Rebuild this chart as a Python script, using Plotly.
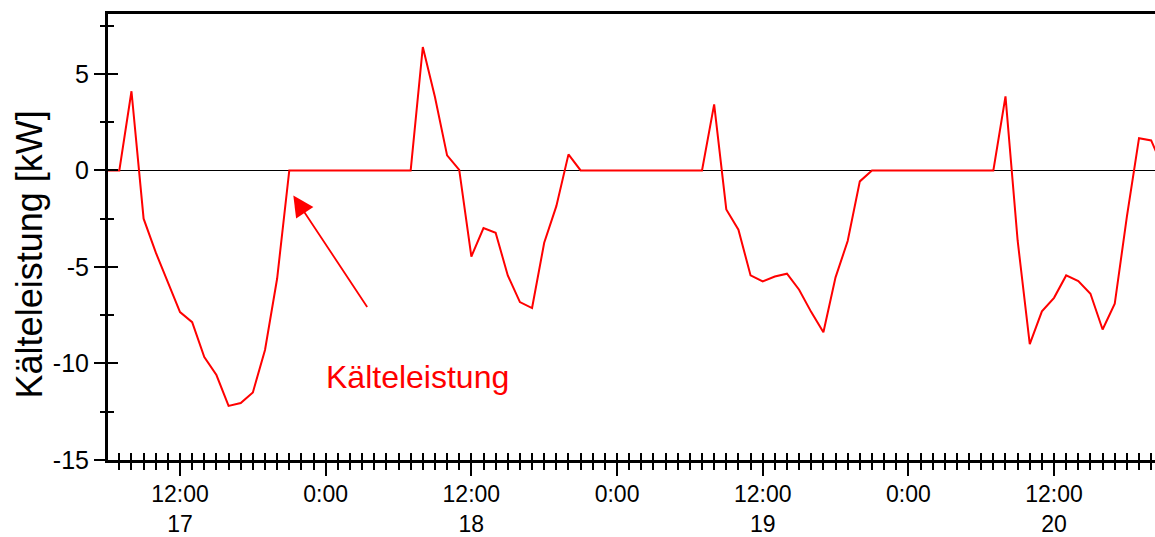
import pandas as pd
import plotly.graph_objects as go

# ---- data (hourly cooling power, kW) ----
start_time = "2023-07-17 06:00"
kaelteleistung = [
    0, 0, 4.1, -2.5, -4.25, -5.8, -7.34, -7.86, -9.67, -10.6, -12.2, -12.05,
    -11.5, -9.3, -5.6, 0, 0, 0, 0, 0, 0, 0, 0, 0,
    0, 0, 6.39, 3.8, 0.78, 0.03, -4.46, -2.99, -3.23, -5.44, -6.82, -7.13,
    -3.75, -1.85, 0.83, 0, 0, 0, 0, 0, 0, 0, 0, 0,
    0, 0, 3.42, -2.02, -3.07, -5.44, -5.75, -5.5, -5.35, -6.18, -7.34, -8.38,
    -5.54, -3.66, -0.57, 0, 0, 0, 0, 0, 0, 0, 0, 0,
    0, 0, 3.83, -3.63, -9.0, -7.3, -6.6, -5.44, -5.73, -6.39, -8.24, -6.91,
    -2.4, 1.67, 1.55, 0.1,
]
times = pd.date_range(start_time, periods=len(kaelteleistung), freq="h")

tick_times = ["2023-07-17 12:00", "2023-07-18 00:00", "2023-07-18 12:00",
              "2023-07-19 00:00", "2023-07-19 12:00", "2023-07-20 00:00",
              "2023-07-20 12:00"]
tick_labels = ["12:00<br>17", "0:00", "12:00<br>18", "0:00", "12:00<br>19",
               "0:00", "12:00<br>20"]
y_ticks = [-15, -10, -5, 0, 5]
y_tick_labels = ["-15", "-10", "-5", "0", "5"]

series_name = "Kälteleistung"
y_title = "Kälteleistung [kW]"

x_range = ["2023-07-17 06:04", "2023-07-20 20:19"]
y_range = [-15, 8.1]

FONT = "Liberation Sans, Arial, Helvetica, sans-serif"
RED = "#ff0000"

fig = go.Figure()
fig.add_trace(go.Scatter(x=times, y=kaelteleistung, mode="lines",
                         line=dict(color=RED, width=2), name=series_name,
                         showlegend=False, hoverinfo="skip"))
# invisible trace for the overlay axes (inside ticks)
fig.add_trace(go.Scatter(x=[times[0]], y=[0], xaxis="x2", yaxis="y2",
                         mode="markers", marker=dict(opacity=0),
                         showlegend=False, hoverinfo="skip"))

minor_x = dict(dtick=3600000, tick0=start_time, ticks="outside",
               ticklen=7, tickwidth=2, tickcolor="black")
common_x = dict(type="date", range=x_range, tickvals=tick_times,
                showgrid=False, zeroline=False, automargin=False)

fig.update_layout(
    width=1155, height=537,
    margin=dict(l=108, r=0, t=14, b=77),
    paper_bgcolor="white", plot_bgcolor="white",
    font=dict(family=FONT, color="black", size=24),
    xaxis=dict(**common_x, ticktext=tick_labels, ticks="outside",
               ticklen=13, tickwidth=2, tickcolor="black",
               minor=minor_x, showline=True, linecolor="black",
               linewidth=3, mirror=True, tickfont=dict(size=23),
               ticklabelstandoff=-2),
    xaxis2=dict(**common_x, overlaying="x", matches="x",
                ticktext=["" for _ in tick_labels], ticks="inside",
                ticklen=12, tickwidth=2, tickcolor="black",
                minor=dict(minor_x, ticks="inside"), showline=False,
                showticklabels=False),
    yaxis=dict(range=y_range, tickvals=y_ticks, ticktext=y_tick_labels,
               ticks="outside", ticklen=11, tickwidth=2, tickcolor="black",
               minor=dict(dtick=2.5, tick0=0, ticks="outside", ticklen=5,
                          tickwidth=2, tickcolor="black"),
               showline=True, linecolor="black", linewidth=3,
               showgrid=False, zeroline=True, zerolinecolor="black",
               zerolinewidth=1, tickfont=dict(size=25), automargin=False),
    yaxis2=dict(range=y_range, overlaying="y", matches="y", tickvals=y_ticks,
                ticks="inside", ticklen=10, tickwidth=2, tickcolor="black",
                minor=dict(dtick=2.5, tick0=0, ticks="inside", ticklen=6,
                           tickwidth=2, tickcolor="black"),
                showticklabels=False, showline=False, showgrid=False,
                zeroline=False, automargin=False),
    annotations=[
        dict(x="2023-07-17 21:20", y=-1.3, xref="x", yref="y",
             ax="2023-07-18 03:30", ay=-7.15, axref="x", ayref="y",
             text="", showarrow=True, arrowhead=2, arrowsize=2.3,
             arrowwidth=1.8, arrowcolor=RED),
        dict(x="2023-07-18 07:36", y=-10.7, xref="x", yref="y",
             text=series_name, showarrow=False,
             font=dict(size=32, color=RED, family=FONT),
             xanchor="center", yanchor="middle"),
        dict(x=-0.075, y=0.462, xref="paper", yref="paper",
             text=y_title, textangle=-90, showarrow=False,
             font=dict(size=36, color="black", family=FONT),
             xanchor="center", yanchor="middle"),
    ],
)

fig.write_html(
    "out.html",
    config={"displayModeBar": False},
    post_script="document.body.style.margin='0px';"
                "document.body.style.overflow='hidden';",
)
